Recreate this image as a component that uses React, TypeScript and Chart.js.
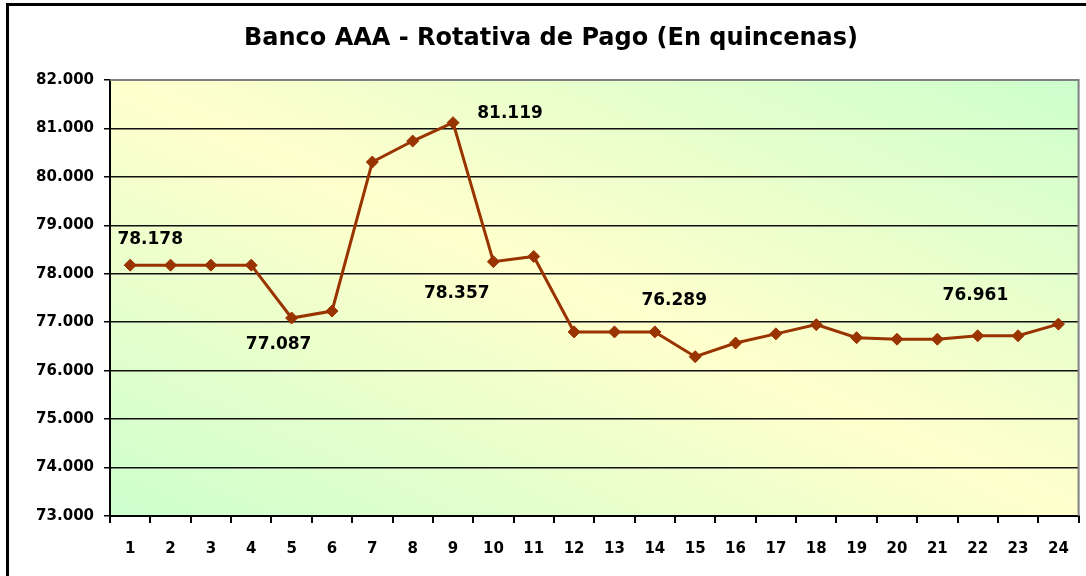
import React, { useEffect, useRef } from "react";
import { Chart, registerables } from "chart.js";
Chart.register(...registerables);

const categories = ["1","2","3","4","5","6","7","8","9","10","11","12","13","14","15","16","17","18","19","20","21","22","23","24"];
const values = [78.178, 78.178, 78.178, 78.178, 77.087, 77.23, 80.307, 80.74, 81.119, 78.25, 78.357, 76.8, 76.8, 76.8, 76.289, 76.57, 76.76, 76.95, 76.68, 76.65, 76.65, 76.72, 76.72, 76.961];
const yMin = 73;
const yMax = 82;
const titleText = "Banco AAA - Rotativa de Pago (En quincenas)";
const labelIndices = [0, 4, 8, 10, 14, 23];
const labelOffsets = [[20, -26], [-13, 27], [57, -9], [-77, 37], [-21, -56], [-83, -29]];

const FONT = "'DejaVu Sans', sans-serif";
const LINE = "#993300";

const decorPlugin = {
  id: "decor",
  beforeDraw(chart: any) {
    const { ctx, chartArea: a, width, height } = chart;
    ctx.save();
    ctx.fillStyle = "#ffffff";
    ctx.fillRect(0, 0, width, height);
    const cx = (a.left + a.right) / 2;
    const cy = (a.top + a.bottom) / 2;
    const w = a.right - a.left;
    const h = a.bottom - a.top;
    let dx = h, dy = -w;
    const len = Math.hypot(dx, dy);
    dx /= len; dy /= len;
    const proj = (w / 2) * dx + (-h / 2) * dy;
    const g = ctx.createLinearGradient(cx - proj * dx, cy - proj * dy, cx + proj * dx, cy + proj * dy);
    g.addColorStop(0, "#ccffcc");
    g.addColorStop(0.5, "#ffffcc");
    g.addColorStop(1, "#ccffcc");
    ctx.fillStyle = g;
    ctx.fillRect(a.left, a.top, w, h);
    ctx.restore();
  },
  beforeDatasetsDraw(chart: any) {
    const { ctx, chartArea: a } = chart;
    ctx.save();
    ctx.strokeStyle = "#808080";
    ctx.lineWidth = 2;
    ctx.beginPath();
    ctx.moveTo(a.left, a.top);
    ctx.lineTo(a.right, a.top);
    ctx.lineTo(a.right, a.bottom);
    ctx.stroke();
    ctx.restore();
  },
  afterDraw(chart: any) {
    const { ctx } = chart;
    const meta = chart.getDatasetMeta(0);
    ctx.save();
    ctx.fillStyle = "#000";
    ctx.font = `bold 24px ${FONT}`;
    ctx.textAlign = "center";
    ctx.textBaseline = "middle";
    ctx.fillText(titleText, 551, 39);
    ctx.font = `bold 17px ${FONT}`;
    labelIndices.forEach((idx, i) => {
      const p = meta.data[idx];
      ctx.fillText(values[idx].toFixed(3), p.x + labelOffsets[i][0], p.y + labelOffsets[i][1]);
    });
    ctx.strokeStyle = "#000";
    ctx.lineWidth = 3;
    ctx.strokeRect(7.5, 4.5, 2000, 2000);
    ctx.restore();
  },
};

export default function App() {
  const ref = useRef<HTMLCanvasElement>(null);
  useEffect(() => {
    const chart = new Chart(ref.current!, {
      type: "line",
      data: {
        labels: categories,
        datasets: [
          {
            data: values,
            borderColor: LINE,
            backgroundColor: LINE,
            borderWidth: 3,
            pointStyle: "rectRot",
            pointRadius: 6,
            pointBorderWidth: 1,
            pointBackgroundColor: LINE,
            pointBorderColor: LINE,
            tension: 0,
          },
        ],
      },
      options: {
        responsive: false,
        animation: false,
        devicePixelRatio: 1,
        layout: { padding: { left: 0, top: 80, right: 5, bottom: 0 } },
        plugins: { legend: { display: false }, title: { display: false }, tooltip: { enabled: false } },
        scales: {
          x: {
            type: "category",
            offset: true,
            grid: { offset: true, drawOnChartArea: false, drawTicks: true, tickLength: 7, color: "#000", lineWidth: 2 },
            border: { display: true, color: "#000", width: 2 },
            ticks: { color: "#000", font: { family: FONT, weight: "bold", size: 15 }, padding: 17, maxRotation: 0, autoSkip: false },
            afterFit: (s: any) => { s.height = 60; },
          },
          y: {
            min: yMin,
            max: yMax,
            grid: {
              color: (c: any) => (c.tick && c.tick.value === yMax ? "rgba(0,0,0,0)" : "#111"),
              tickColor: "#000",
              lineWidth: 1.5,
              tickLength: 6,
              drawTicks: true,
            },
            border: { display: true, color: "#000", width: 2 },
            ticks: {
              stepSize: 1,
              color: "#000",
              font: { family: FONT, weight: "bold", size: 15 },
              padding: 10,
              callback: (v: any) => Number(v).toFixed(3),
            },
            afterFit: (s: any) => { s.width = 110; },
          },
        },
      },
      plugins: [decorPlugin],
    } as any);
    return () => chart.destroy();
  }, []);
  return (
    <div style={{ position: "fixed", left: 0, top: 0, width: 1086, height: 576 }}>
      <canvas ref={ref} width={1086} height={576} style={{ width: 1086, height: 576, display: "block" }} />
    </div>
  );
}
